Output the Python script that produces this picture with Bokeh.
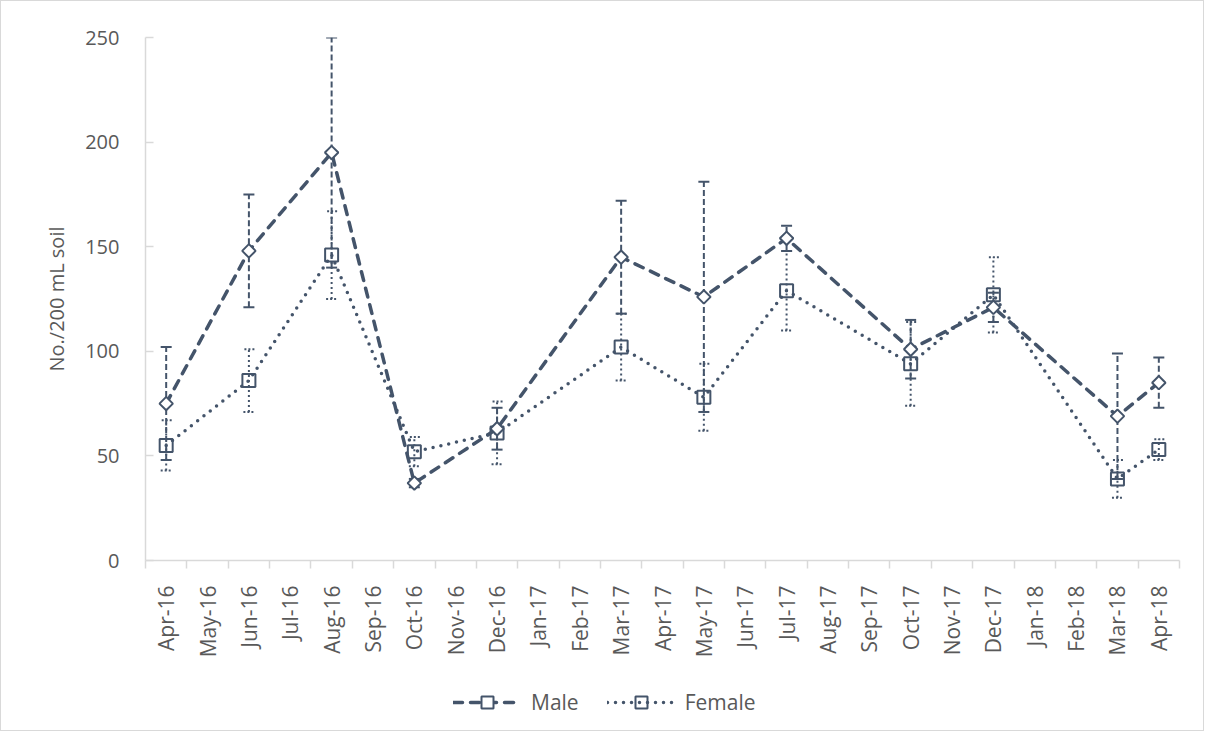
import math
from bokeh.plotting import figure
from bokeh.layouts import column
from bokeh.models import (ColumnDataSource, FixedTicker, Whisker, TeeHead, Legend,
                          LegendItem, Range1d, CustomJSTickFormatter)
from bokeh.embed import file_html
from bokeh.resources import INLINE

# ---------------- data ----------------
months = ["Apr-16", "May-16", "Jun-16", "Jul-16", "Aug-16", "Sep-16", "Oct-16", "Nov-16",
          "Dec-16", "Jan-17", "Feb-17", "Mar-17", "Apr-17", "May-17", "Jun-17", "Jul-17",
          "Aug-17", "Sep-17", "Oct-17", "Nov-17", "Dec-17", "Jan-18", "Feb-18", "Mar-18",
          "Apr-18"]
sample_months = ["Apr-16", "Jun-16", "Aug-16", "Oct-16", "Dec-16", "Mar-17", "May-17",
                 "Jul-17", "Oct-17", "Dec-17", "Mar-18", "Apr-18"]
male = [75, 148, 195, 37, 63, 145, 126, 154, 101, 121, 69, 85]
male_err = [27, 27, 55, 2, 10, 27, 55, 6, 14, 7, 30, 12]
female = [55, 86, 146, 52, 61, 102, 78, 129, 94, 127, 39, 53]
female_err = [12, 15, 21, 7, 15, 16, 16, 19, 20, 18, 9, 5]
y_ticks = [0, 50, 100, 150, 200, 250]
series_names = ["Male", "Female"]

COL = "#44546A"
TXT = "#595959"
AX = "#D9D9D9"
FONT = "Open Sans"

MALE_LINE = dict(line_color=COL, line_width=3.5, line_dash="9 8", line_cap="round")
FEMALE_LINE = dict(line_color=COL, line_width=3.5, line_dash="0 8", line_cap="round")
MALE_MARK = dict(marker="square", angle=math.pi / 4, size=9.5, line_color=COL, line_width=2,
                 fill_color="white")
FEMALE_MARK = dict(marker="square", size=13, line_color=COL, line_width=2, fill_color=None)

x = [months.index(m) + 0.5 for m in sample_months]
src_m = ColumnDataSource(dict(x=x, y=male, up=[v + e for v, e in zip(male, male_err)],
                              lo=[v - e for v, e in zip(male, male_err)]))
src_f = ColumnDataSource(dict(x=x, y=female, up=[v + e for v, e in zip(female, female_err)],
                              lo=[v - e for v, e in zip(female, female_err)]))

p = figure(width=1202, height=679, output_backend="svg", toolbar_location=None,
           x_range=Range1d(0, len(months)), y_range=Range1d(0, 250),
           min_border_left=144, min_border_right=24, min_border_top=36, min_border_bottom=120)
p.outline_line_color = None
p.grid.visible = False
p.background_fill_color = "white"
p.border_fill_color = "white"

# error bars
wm = Whisker(base="x", upper="up", lower="lo", source=src_m, dimension="height",
             line_color=COL, line_width=2, line_dash="6 3",
             upper_head=TeeHead(size=11, line_color=COL, line_width=2),
             lower_head=TeeHead(size=11, line_color=COL, line_width=2), level="underlay")
wf = Whisker(base="x", upper="up", lower="lo", source=src_f, dimension="height",
             line_color=COL, line_width=2, line_dash="2 3",
             upper_head=TeeHead(size=11, line_color=COL, line_width=2, line_dash="2 2"),
             lower_head=TeeHead(size=11, line_color=COL, line_width=2, line_dash="2 2"), level="underlay")
p.add_layout(wf)
p.add_layout(wm)

p.line("x", "y", source=src_f, **FEMALE_LINE)
p.line("x", "y", source=src_m, **MALE_LINE)
p.scatter("x", "y", source=src_f, **FEMALE_MARK)
p.scatter("x", "y", source=src_m, **MALE_MARK)

# x axis
xa = p.xaxis[0]
xa.ticker = FixedTicker(ticks=[i + 0.5 for i in range(len(months))],
                        minor_ticks=list(range(len(months) + 1)))
xa.formatter = CustomJSTickFormatter(args=dict(labels=months),
                                     code="return labels[Math.round(tick - 0.5)] || '';")
xa.major_label_orientation = math.pi / 2
xa.major_tick_line_color = None
xa.major_tick_in = 0
xa.major_tick_out = 0
xa.minor_tick_in = 0
xa.minor_tick_out = 8
xa.minor_tick_line_color = AX
xa.minor_tick_line_width = 1.5
xa.axis_line_color = AX
xa.axis_line_width = 1.5
xa.major_label_standoff = 17
xa.major_label_text_font = FONT
xa.major_label_text_font_size = "21px"
xa.major_label_text_color = TXT

# y axis
ya = p.yaxis[0]
ya.ticker = FixedTicker(ticks=y_ticks)
ya.major_tick_in = 8
ya.major_tick_out = 0
ya.major_tick_line_color = AX
ya.major_tick_line_width = 1.5
ya.minor_tick_line_color = None
ya.axis_line_color = AX
ya.axis_line_width = 1.5
ya.major_label_standoff = 26
ya.major_label_text_font = FONT
ya.major_label_text_font_size = "20px"
ya.major_label_text_color = TXT
ya.axis_label = "No./200 mL soil"
ya.axis_label_text_font = FONT
ya.axis_label_text_font_size = "20px"
ya.axis_label_text_font_style = "normal"
ya.axis_label_text_color = TXT
ya.axis_label_standoff = 12

# legend strip below the chart (its glyph sample renderers sit outside the visible range)
pl = figure(width=1202, height=50, output_backend="svg", toolbar_location=None,
            x_range=Range1d(0, 1), y_range=Range1d(0, 1),
            x_axis_location=None, y_axis_location=None,
            min_border=0, min_border_left=0, min_border_right=0, min_border_top=0,
            min_border_bottom=0)
pl.outline_line_color = None
pl.grid.visible = False
pl.border_fill_color = "white"
off = dict(x=[-10, -9], y=[-10, -10])
lm_line = pl.line(x=off["x"], y=off["y"], **MALE_LINE)
lm_mark = pl.scatter(x=off["x"], y=off["y"], **MALE_MARK)
lf_line = pl.line(x=off["x"], y=off["y"], **FEMALE_LINE)
lf_mark = pl.scatter(x=off["x"], y=off["y"], **FEMALE_MARK)

legend = Legend(items=[LegendItem(label=series_names[0], renderers=[lm_line, lm_mark]),
                       LegendItem(label=series_names[1], renderers=[lf_line, lf_mark])],
                orientation="horizontal", location=(308, 13),
                glyph_width=68, glyph_height=30, label_standoff=10, spacing=28,
                padding=0, margin=0, border_line_color=None, background_fill_alpha=0,
                label_text_font=FONT, label_text_font_size="21px", label_text_color=TXT)
pl.add_layout(legend, "center")

layout = column(p, pl, spacing=0)
layout.styles = {"border": "1px solid #D9D9D9"}

open("out.html", "w").write(file_html(layout, INLINE))
